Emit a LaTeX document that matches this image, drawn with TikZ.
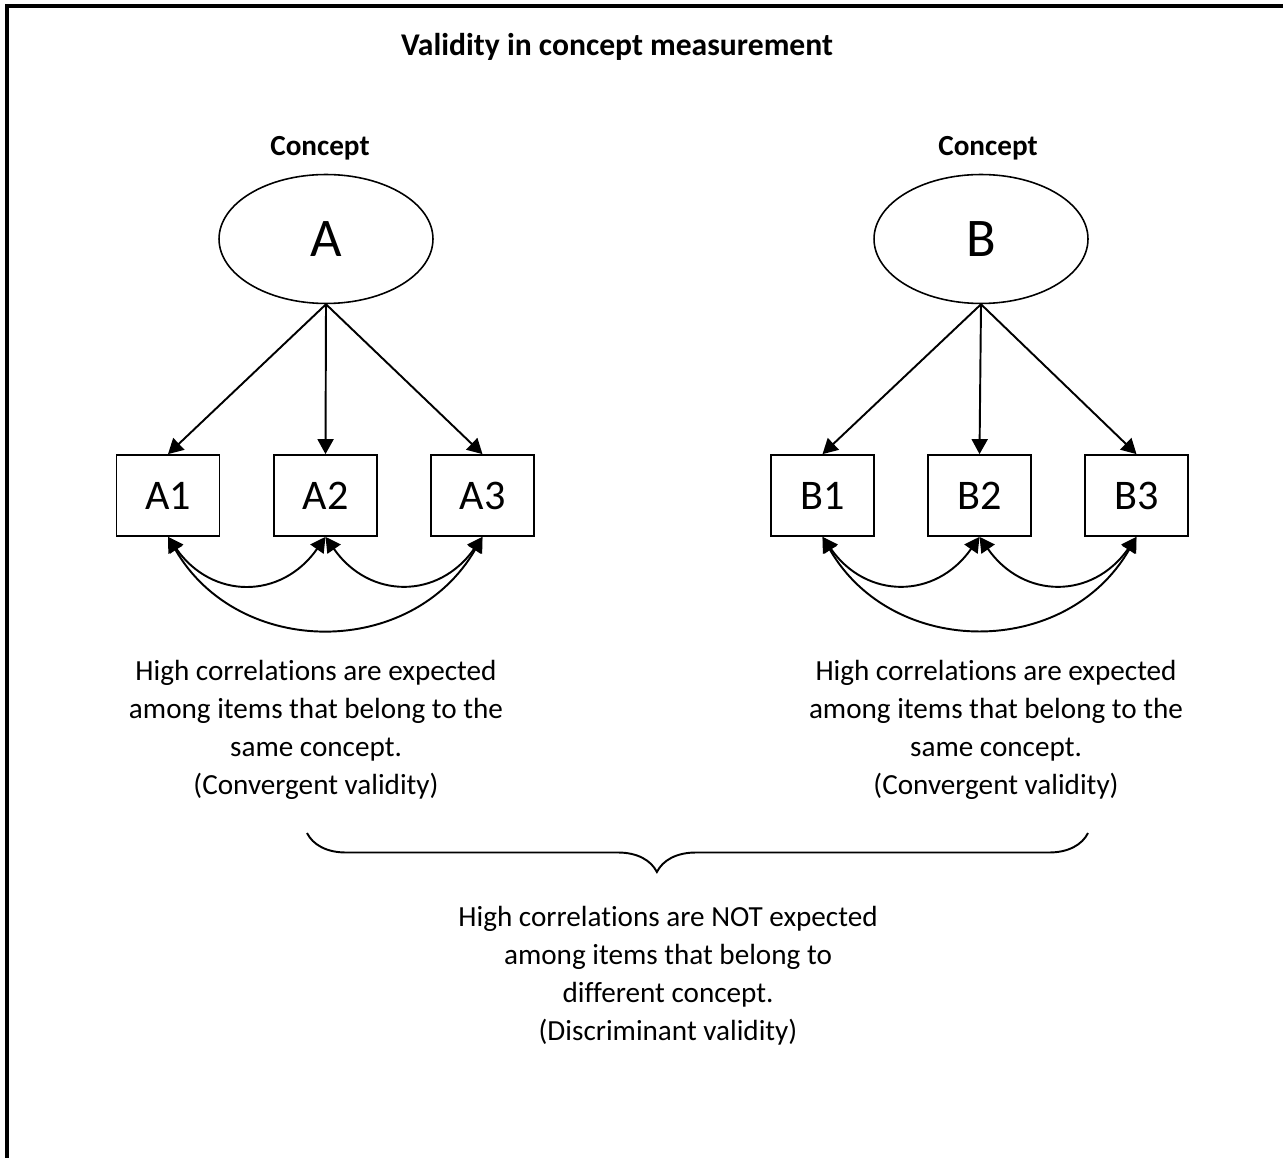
\documentclass[tikz,border=0pt]{standalone}
\usepackage{fontspec}
\setmainfont[Ligatures=NoCommon]{Carlito}
\usetikzlibrary{arrows.meta, positioning, shapes.geometric, decorations.pathreplacing}
\tikzstyle{concept}=[ellipse, draw=black, line width=0.9pt, inner sep=0pt,
  minimum width=4.28cm, minimum height=2.58cm, font=\fontsize{31}{37}\selectfont]
\tikzstyle{itembox}=[rectangle, draw=black, line width=1pt, inner sep=0pt,
  minimum width=2.06cm, minimum height=1.62cm, font=\fontsize{24}{29}\selectfont]
\tikzstyle{notetext}=[align=center, font=\fontsize{16.6}{21.6}\selectfont]
\tikzstyle{headtext}=[font=\fontsize{16.6}{20}\selectfont\bfseries]
\tikzstyle{larr}=[-{Triangle[length=3mm,width=3.2mm]}, line width=1.1pt]
\tikzstyle{corr}=[{Triangle[length=3mm,width=3.2mm]}-{Triangle[length=3mm,width=3.2mm]}, line width=1.1pt]

\begin{document}
\begin{tikzpicture}[x=0.02cm, y=-0.02cm]
    \useasboundingbox (0,0) rectangle (1283,1158);
    % frame
    \draw[line width=2.2pt] (7,1158) -- (7,6) -- (1283,6);
    \node[headtext, font=\fontsize{18}{22}\selectfont\bfseries] (title) at (617,47) {Validity in concept measurement};

    % concept A
    \node[headtext] (ha) at (320,148) {Concept};
    \node[concept] (ca) at (326,239) {A};
    \node[itembox] (a1) at (168,495.5) {A1};
    \node[itembox] (a2) at (325.5,495.5) {A2};
    \node[itembox] (a3) at (482.5,495.5) {A3};
    \draw[larr] (ca.south) -- (a1.north);
    \draw[larr] (ca.south) -- (a2.north);
    \draw[larr] (ca.south) -- (a3.north);
    \draw[corr] (a1.south) to[out=-55, in=-125, looseness=1.25] (a2.south);
    \draw[corr] (a2.south) to[out=-55, in=-125, looseness=1.25] (a3.south);
    \draw[corr] (a1.south) to[out=-60, in=-120, looseness=1.15] (a3.south);

    % concept B
    \node[headtext] (hb) at (988,148) {Concept};
    \node[concept] (cb) at (981,239) {B};
    \node[itembox] (b1) at (822.5,495.5) {B1};
    \node[itembox] (b2) at (979.5,495.5) {B2};
    \node[itembox] (b3) at (1136.5,495.5) {B3};
    \draw[larr] (cb.south) -- (b1.north);
    \draw[larr] (cb.south) -- (b2.north);
    \draw[larr] (cb.south) -- (b3.north);
    \draw[corr] (b1.south) to[out=-55, in=-125, looseness=1.25] (b2.south);
    \draw[corr] (b2.south) to[out=-55, in=-125, looseness=1.25] (b3.south);
    \draw[corr] (b1.south) to[out=-60, in=-120, looseness=1.15] (b3.south);

    % notes
    \node[notetext] (na) at (316,730) {High correlations are expected\\among items that belong to the\\same concept.\\(Convergent validity)};
    \node[notetext] (nb) at (996,730) {High correlations are expected\\among items that belong to the\\same concept.\\(Convergent validity)};
    \coordinate (bl) at (307,833);
    \coordinate (br) at (1088,833);
    \draw[line width=1.1pt, decorate, decoration={brace, mirror, amplitude=0.78cm, aspect=0.448}] (bl) -- (br);
    \node[notetext] (nc) at (668,976) {High correlations are NOT expected\\among items that belong to\\different concept.\\(Discriminant validity)};
  \end{tikzpicture}
\end{document}
